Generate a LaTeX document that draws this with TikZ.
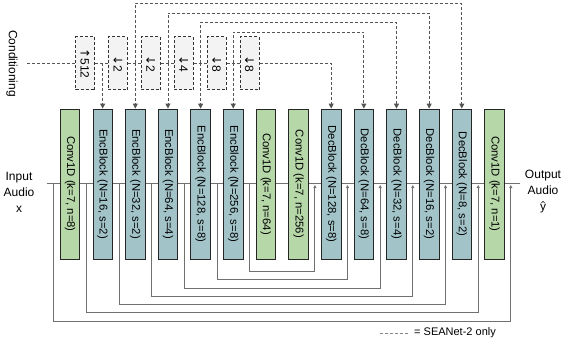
\documentclass[tikz,border=0pt]{standalone}
\usepackage{fontspec}
\setmainfont{Liberation Sans}
\newfontfamily\arrowfont{DejaVu Sans}
\usetikzlibrary{arrows.meta}
\definecolor{encc}{HTML}{A2C4C9}
\definecolor{convc}{HTML}{B6D7A8}
\definecolor{linec}{HTML}{707070}
\definecolor{dashc}{HTML}{555555}
\definecolor{boxdash}{HTML}{333333}
\definecolor{boxc}{HTML}{F3F3F3}
\begin{document}
\begin{tikzpicture}[x=1pt,y=-1pt,
  blockbase/.style={draw=black!85, line width=0.8pt, rotate=-90, minimum width=150pt, minimum height=19.5pt, inner sep=0pt, font=\fontsize{11.3}{13}\selectfont},
  enc/.style={blockbase, fill=encc},
  conv/.style={blockbase, fill=convc},
  condbox/.style={draw=boxdash, dash pattern=on 3pt off 2pt, line width=1pt, fill=boxc, rotate=-90, minimum width=53pt, minimum height=19pt, inner sep=0pt, font=\fontsize{12}{14}\selectfont},
  dsh/.style={draw=dashc, dash pattern=on 3pt off 2pt, line width=0.9pt},
  dsharrow/.style={dsh, -{Triangle[length=5pt,width=5pt]}},
  skip/.style={draw=linec, line width=0.9pt},
  skiparrow/.style={skip, -{Triangle[length=3pt,width=3pt]}},
  lbl/.style={font=\fontsize{12}{16}\selectfont, align=center, inner sep=0pt}
]
\useasboundingbox (0,0) rectangle (568,345);

% main signal line
\coordinate (inL) at (47,183);
\coordinate (outR) at (520,183);
\draw[skip] (inL) -- (outR);

% skip connections
\foreach \k/\xl/\xr/\yy in {0/53.7/510.8/321, 1/86.3/478.2/312.5, 2/119/445.5/304, 3/151.6/412.8/296, 4/184.3/380.2/288, 5/217/347.5/279.5, 6/249.6/314.9/271}{
  \coordinate (sL\k) at (\xl,183);
  \coordinate (sB\k) at (\xl,\yy);
  \coordinate (sR\k) at (\xr,185);
  \draw[skiparrow] (sL\k) -- (sB\k) -| (sR\k);
}

% blocks
\node[conv] (b0)  at (70,184)     {Conv1D (k=7, n=8)};
\node[enc]  (b1)  at (102.65,184) {EncBlock (N=16, s=2)};
\node[enc]  (b2)  at (135.3,184)  {EncBlock (N=32, s=2)};
\node[enc]  (b3)  at (167.95,184) {EncBlock (N=64, s=4)};
\node[enc]  (b4)  at (200.6,184)  {EncBlock (N=128, s=8)};
\node[enc]  (b5)  at (233.25,184) {EncBlock (N=256, s=8)};
\node[conv] (b6)  at (265.9,184)  {Conv1D (k=7, n=64)};
\node[conv] (b7)  at (298.55,184) {Conv1D (k=7, n=256)};
\node[enc]  (b8)  at (331.2,184)  {DecBlock (N=128, s=8)};
\node[enc]  (b9)  at (363.85,184) {DecBlock (N=64, s=8)};
\node[enc]  (b10) at (396.5,184)  {DecBlock (N=32, s=4)};
\node[enc]  (b11) at (429.15,184) {DecBlock (N=16, s=2)};
\node[enc]  (b12) at (461.8,184)  {DecBlock (N=8, s=2)};
\node[conv] (b13) at (494.45,184) {Conv1D (k=7, n=1)};

% input / output labels
\node[lbl] (inlab) at (19,192) {Input\\Audio\\x};
\node[lbl] (outlab) at (543,192) {Output\\Audio\\ŷ};

% conditioning
\node[rotate=-90, font=\fontsize{12}{14}\selectfont, inner sep=0pt] (cond) at (12,63.5) {Conditioning};
\coordinate (condR) at (27,63.5);
\node[condbox] (c1) at (85,63.5)    {{\arrowfont ↑}512};
\node[condbox] (c2) at (117.9,63.5) {{\arrowfont ↓}2};
\node[condbox] (c3) at (150.8,63.5) {{\arrowfont ↓}2};
\node[condbox] (c4) at (183.7,63.5) {{\arrowfont ↓}4};
\node[condbox] (c5) at (216.6,63.5) {{\arrowfont ↓}8};
\node[condbox] (c6) at (249.5,63.5) {{\arrowfont ↓}8};
\draw[dsh] (condR) -- (c1);
\draw[dsh] (c1) -- (c2);
\draw[dsh] (c2) -- (c3);
\draw[dsh] (c3) -- (c4);
\draw[dsh] (c4) -- (c5);
\draw[dsh] (c5) -- (c6);

\coordinate (j1) at (102.65,63.5);
\coordinate (j2) at (135.3,63.5);
\coordinate (j3) at (167.95,63.5);
\coordinate (j4) at (200.6,63.5);
\coordinate (j5) at (233.25,63.5);
\draw[dsharrow] (j1) -- (b1.west);
\draw[dsharrow] (j2) -- (b2.west);
\draw[dsharrow] (j3) -- (b3.west);
\draw[dsharrow] (j4) -- (b4.west);
\draw[dsharrow] (j5) -- (b5.west);
\coordinate (t2) at (135.3,3.5);
\coordinate (t3) at (167.95,13);
\coordinate (t4) at (200.6,22.5);
\coordinate (t5) at (233.25,32);
\draw[dsharrow] (j2) -- (t2) -| (b12.west);
\draw[dsharrow] (j3) -- (t3) -| (b11.west);
\draw[dsharrow] (j4) -- (t4) -| (b10.west);
\draw[dsharrow] (j5) -- (t5) -| (b9.west);
\draw[dsharrow] (c6) -| (b8.west);

% legend
\node[anchor=west, font=\fontsize{11}{13}\selectfont, inner sep=0pt] (leg) at (414,333) {= SEANet-2 only};
\coordinate (legL) at (380,333);
\coordinate (legR) at (408,333);
\draw[dsh, draw=dashc!70] (legL) -- (legR);
\end{tikzpicture}
\end{document}
